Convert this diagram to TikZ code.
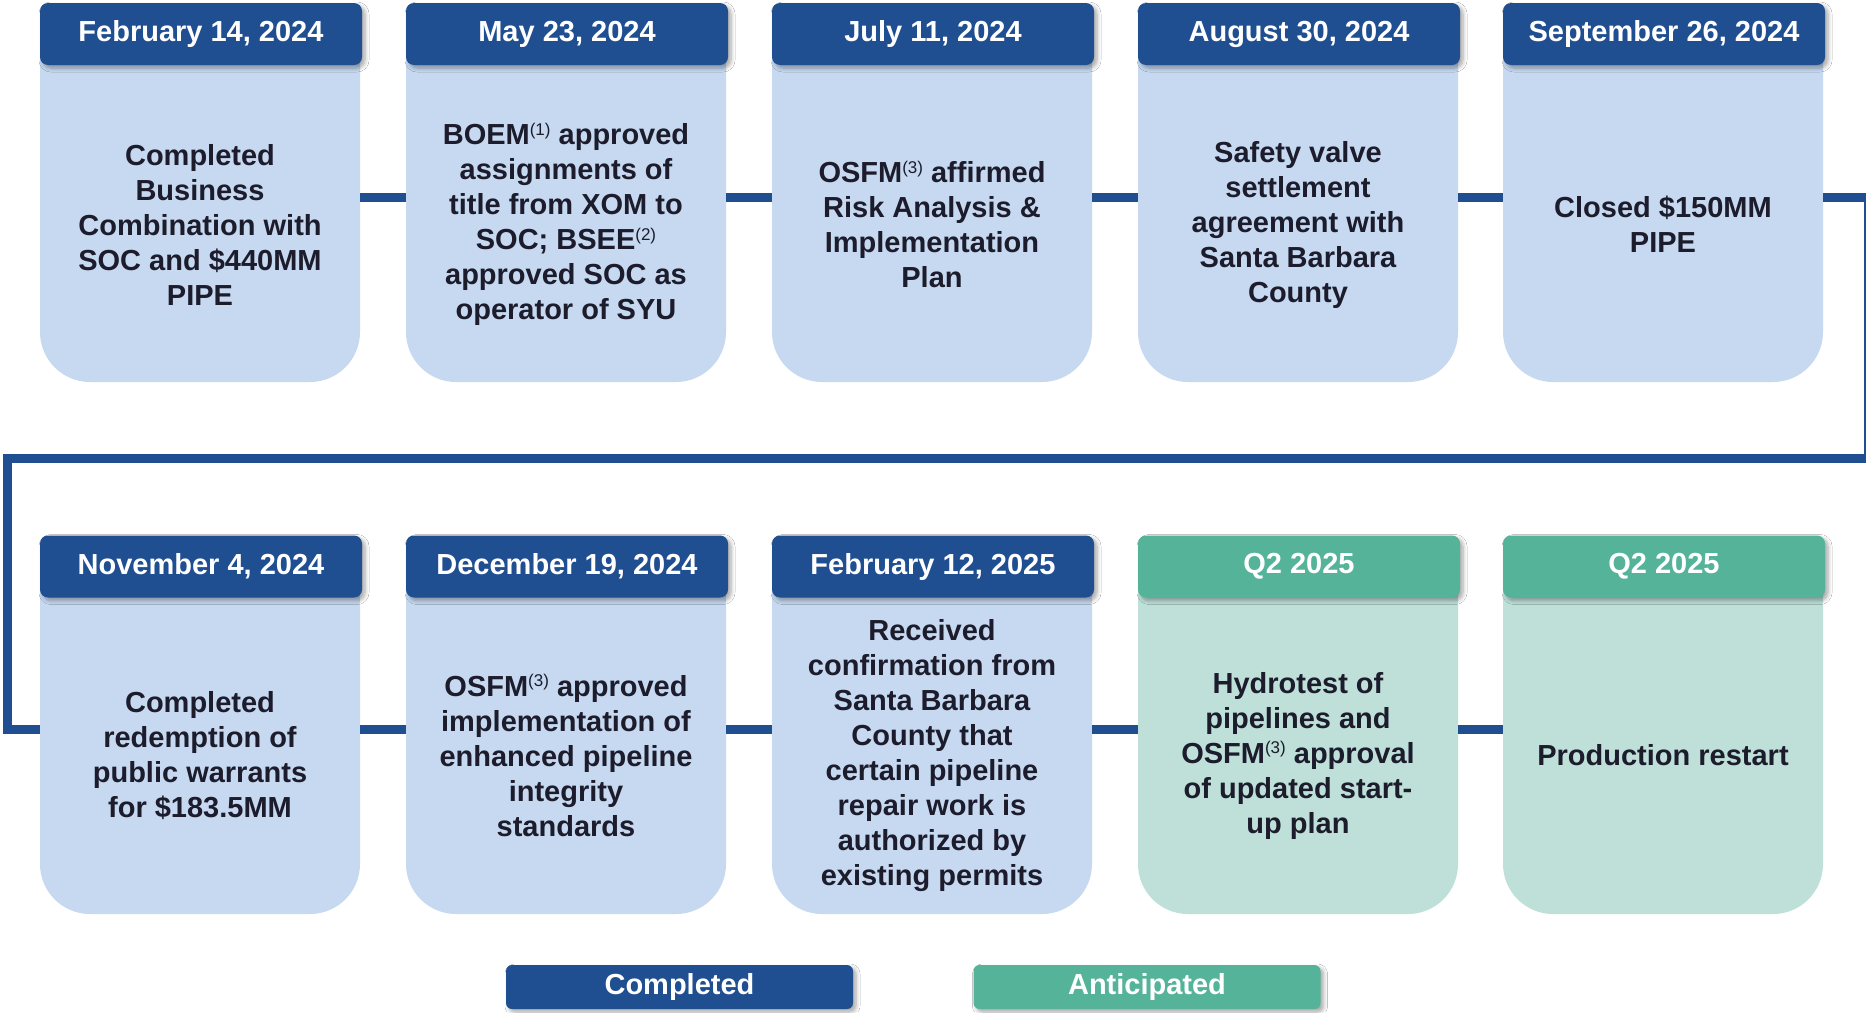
\documentclass[tikz,border=0pt]{standalone}
\usepackage{fontspec}
\setmainfont{Liberation Sans}
\usetikzlibrary{shadows.blur}
\definecolor{dblue}{RGB}{31,78,145}
\definecolor{lblue}{RGB}{198,217,240}
\definecolor{dgreen}{RGB}{85,179,154}
\definecolor{lgreen}{RGB}{190,224,217}
\definecolor{txt}{RGB}{28,28,44}
\newcommand\refn[1]{\raisebox{0.62ex}{\fontsize{17}{17}\selectfont\mdseries(#1)}}
\begin{document}
\begin{tikzpicture}[x=1pt,y=-1pt,
  body/.style={rectangle, rounded corners=50pt, minimum width=320pt, minimum height=369pt, inner sep=0pt, fill=#1},
  head/.style={rectangle, rounded corners=8pt, minimum width=322pt, minimum height=62pt, inner sep=0pt, fill=#1, text=white, font=\fontsize{29}{35}\selectfont\bfseries, blur shadow={shadow xshift=3pt, shadow yshift=-3pt, shadow blur steps=6, shadow blur radius=4pt, shadow opacity=35}},
  desc/.style={align=center, text=txt, font=\fontsize{29}{35}\selectfont\bfseries, inner sep=0pt},
  conn/.style={draw=dblue, line width=9pt},
  legendbox/.style={rectangle, rounded corners=6pt, minimum width=347pt, minimum height=44pt, inner sep=0pt, fill=#1, text=white, font=\fontsize{29}{35}\selectfont\bfseries, blur shadow={shadow xshift=3pt, shadow yshift=-3pt, shadow blur steps=6, shadow blur radius=4pt, shadow opacity=35}}
]
\useasboundingbox (0,0) rectangle (1866,1012);
\begin{scope}
\clip (0,0) rectangle (1866,1012);
\fill[white] (0,0) rectangle (1866,1012);

% row 1 bodies
\node[body=lblue] (b1) at (200,197.5) {};
\node[body=lblue] (b2) at (566,197.5) {};
\node[body=lblue] (b3) at (932,197.5) {};
\node[body=lblue] (b4) at (1298,197.5) {};
\node[body=lblue] (b5) at (1663,197.5) {};
% row 2 bodies
\node[body=lblue] (b6) at (200,729.5) {};
\node[body=lblue] (b7) at (566,729.5) {};
\node[body=lblue] (b8) at (932,729.5) {};
\node[body=lgreen] (b9) at (1298,729.5) {};
\node[body=lgreen] (b10) at (1663,729.5) {};

% connectors
\draw[conn] (b1.east) -- (b2.west);
\draw[conn] (b2.east) -- (b3.west);
\draw[conn] (b3.east) -- (b4.west);
\draw[conn] (b4.east) -- (b5.west);
\coordinate (s1) at (1868,197.5);
\coordinate (s2) at (1868,458);
\coordinate (s3) at (7,458);
\coordinate (s4) at (7,729.5);
\draw[conn] (b5.east) -- (s1) -- (s2) -- (s3) -- (s4) -- (b6.west);
\draw[conn] (b6.east) -- (b7.west);
\draw[conn] (b7.east) -- (b8.west);
\draw[conn] (b8.east) -- (b9.west);
\draw[conn] (b9.east) -- (b10.west);

% headers
\node[head=dblue] (h1) at (201,34) {February 14, 2024};
\node[head=dblue] (h2) at (567,34) {May 23, 2024};
\node[head=dblue] (h3) at (933,34) {July 11, 2024};
\node[head=dblue] (h4) at (1299,34) {August 30, 2024};
\node[head=dblue] (h5) at (1664,34) {September 26, 2024};
\node[head=dblue] (h6) at (201,566.5) {November 4, 2024};
\node[head=dblue] (h7) at (567,566.5) {December 19, 2024};
\node[head=dblue] (h8) at (933,566.5) {February 12, 2025};
\node[head=dgreen] (h9) at (1299,566.5) {Q2 2025};
\node[head=dgreen] (h10) at (1664,566.5) {Q2 2025};

% texts
\node[desc] (t1) at (200,224.5) {Completed\\Business\\Combination with\\SOC and \$440MM\\PIPE};
\node[desc] (t2) at (566,224.5) {BOEM\refn{1} approved\\assignments of\\title from XOM to\\SOC; BSEE\refn{2}\\approved SOC as\\operator of SYU};
\node[desc] (t3) at (932,224.5) {OSFM\refn{3} affirmed\\Risk Analysis \&\\Implementation\\Plan};
\node[desc] (t4) at (1298,224.5) {Safety valve\\settlement\\agreement with\\Santa Barbara\\County};
\node[desc] (t5) at (1663,224.5) {Closed \$150MM\\PIPE};
\node[desc] (t6) at (200,755.5) {Completed\\redemption of\\public warrants\\for \$183.5MM};
\node[desc] (t7) at (566,755.5) {OSFM\refn{3} approved\\implementation of\\enhanced pipeline\\integrity\\standards};
\node[desc] (t8) at (932,755.5) {Received\\confirmation from\\Santa Barbara\\County that\\certain pipeline\\repair work is\\authorized by\\existing permits};
\node[desc] (t9) at (1298,755.5) {Hydrotest of\\pipelines and\\OSFM\refn{3} approval\\of updated start-\\up plan};
\node[desc] (t10) at (1663,755.5) {Production restart};

% legend
\node[legendbox=dblue] (lg1) at (679.5,987) {Completed};
\node[legendbox=dgreen] (lg2) at (1147,987) {Anticipated};
\end{scope}
\end{tikzpicture}
\end{document}
